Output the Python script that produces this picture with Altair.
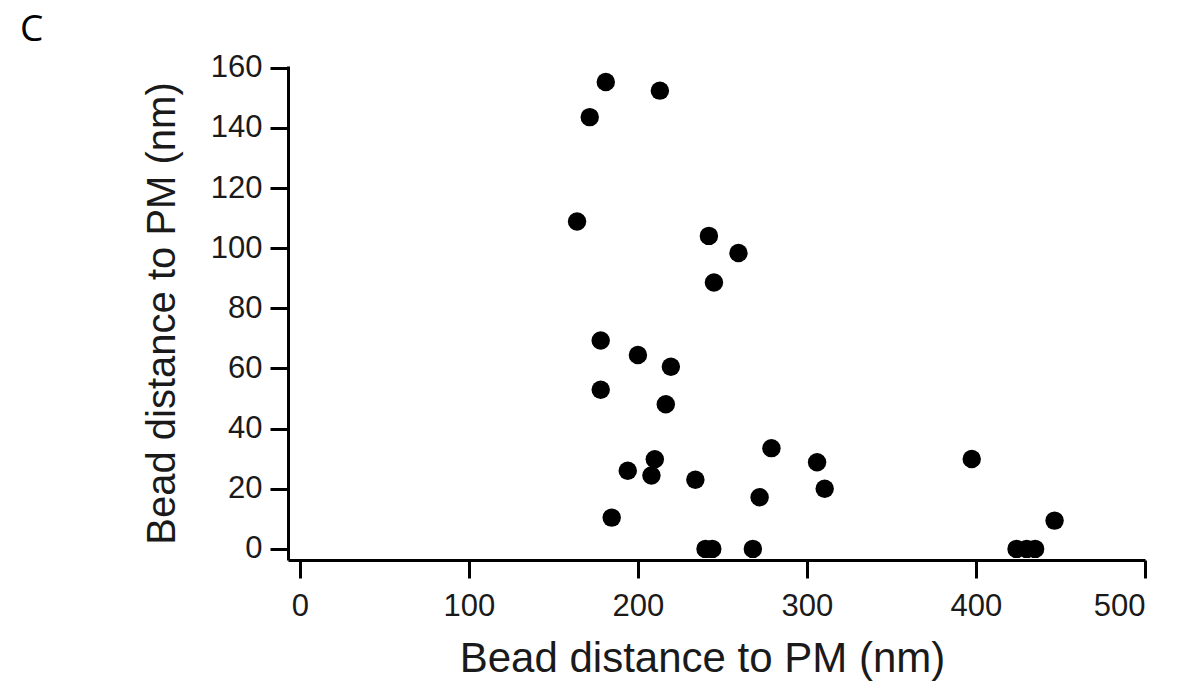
import altair as alt
import pandas as pd

x_nm = [181, 213, 171.5, 164, 242, 259.5, 245, 178, 200, 219.5, 178, 216.5,
        184.5, 194, 210, 208, 234, 240, 244, 268, 272, 279, 306, 310.5,
        397.5, 424, 430, 435, 446.5]
y_nm = [155.3, 152.4, 143.6, 108.9, 104.1, 98.4, 88.6, 69.3, 64.5, 60.6, 52.9, 48.1,
        10.4, 26, 29.8, 24.4, 23, 0, 0, 0, 17.2, 33.5, 28.8, 20,
        29.9, 0, 0, 0, 9.4]
x_ticks = [0, 100, 200, 300, 400, 500]
y_ticks = [0, 20, 40, 60, 80, 100, 120, 140, 160]
panel_label = "C"
axis_title = "Bead distance to PM (nm)"

df = pd.DataFrame({"x": x_nm, "y": y_nm})

TICK_FONT = "Liberation Sans"
TITLE_FONT = "Liberation Sans"

points = alt.Chart(df).mark_point(
    filled=True, shape="circle", size=340, color="black", opacity=1
).encode(
    x=alt.X("x:Q",
            scale=alt.Scale(domain=[-7, 500], nice=False, zero=False),
            axis=alt.Axis(values=x_ticks, title=axis_title, grid=False,
                          domainColor="black", domainWidth=3,
                          tickColor="black", tickWidth=3, tickSize=18,
                          labelFont=TICK_FONT, labelFontSize=31, labelColor="#1a1a1a",
                          labelPadding=13, labelFlush=True,
                          titleFont=TITLE_FONT, titleFontSize=42, titleFontWeight="normal",
                          titleColor="#1a1a1a", titlePadding=17, titleX=414)),
    y=alt.Y("y:Q",
            scale=alt.Scale(domain=[-3.7, 160.6], nice=False, zero=False),
            axis=alt.Axis(values=y_ticks, title=axis_title, grid=False,
                          domainColor="black", domainWidth=3,
                          tickColor="black", tickWidth=3, tickSize=18,
                          labelFont=TICK_FONT, labelFontSize=31, labelColor="#1a1a1a",
                          labelPadding=8,
                          titleFont=TITLE_FONT, titleFontSize=40, titleFontWeight="normal",
                          titleColor="#1a1a1a", titlePadding=28)),
)

label = alt.Chart(pd.DataFrame({"t": [panel_label]})).mark_text(
    font="Open Sans", fontSize=37, color="black", align="left", baseline="alphabetic"
).encode(
    x=alt.value(-268), y=alt.value(-25), text="t:N"
)

chart = alt.layer(points, label).properties(
    width=857, height=494,
    autosize=alt.AutoSizeParams(type="none"),
    padding={"left": 280, "top": 58, "right": 25, "bottom": 122},
).configure_view(stroke=None)

chart.save("out.html", embed_options={"renderer": "svg", "actions": False})
